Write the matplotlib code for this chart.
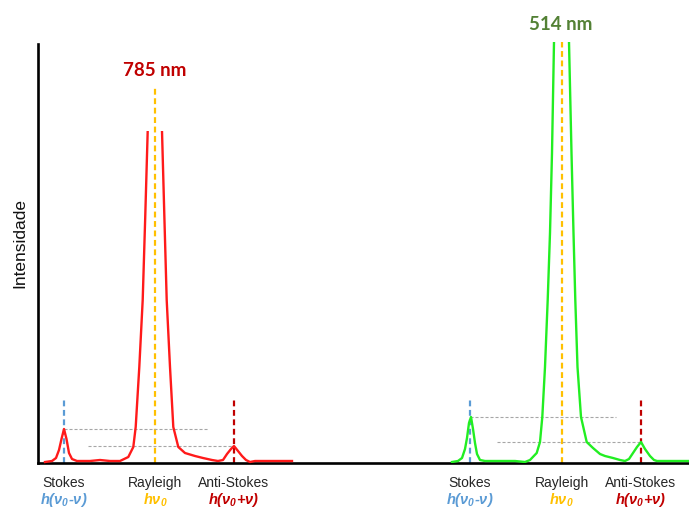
import matplotlib
matplotlib.use("Agg")
import matplotlib.pyplot as plt
from matplotlib.patches import Rectangle

plt.rcParams["lines.scale_dashes"] = False
plt.rcParams["font.family"] = ["Liberation Sans", "DejaVu Sans"]
plt.rcParams["mathtext.fontset"] = "custom"
for key in ("mathtext.bf", "mathtext.rm", "mathtext.it"):
    plt.rcParams[key] = "Liberation Sans:italic:bold"

# ---- spectra (position along the axis, intensity) ----
# 785 nm excitation
red_x = [45, 52, 56, 59, 61.5, 64, 66.5, 69, 72, 77, 90, 100, 110, 120, 128.3,
         133.3, 135.7, 139.3, 142.7, 145.2, 147.7, 155, 162, 164.4, 166.7, 170,
         173.3, 178.3, 185, 195, 203, 212, 218, 223, 227, 231, 234, 238, 242, 246,
         250, 255, 292]
red_y = [1, 2, 5, 13, 24, 34, 24, 10, 4, 2, 2, 3, 2, 2, 6,
         16, 36, 96, 163, 245, 332, 1000, 332, 245, 163, 96,
         36, 16, 10, 7, 5, 3, 2, 3, 9, 14, 17, 12, 7, 3,
         1, 2, 2]

# 514 nm excitation
green_x = [452, 458, 462, 465, 467, 469, 471, 473, 475, 477, 480, 485, 500, 515, 525,
           530, 536.7, 540, 542.3, 545, 547.7, 550, 552, 554, 561.5, 569, 571.5,
           573.5, 575.3, 577.5, 581, 586.7, 593, 600, 605, 613, 620, 625, 629, 633,
           637, 641, 645, 650, 654, 657, 689]
green_y = [1, 2, 5, 14, 25, 40, 46, 34, 20, 9, 3, 2, 2, 2, 1,
           3, 10, 21, 46, 96, 163, 230, 310, 421, 1200, 421, 310,
           230, 163, 96, 46, 21, 15, 9, 7, 5, 3, 2, 4, 10,
           16, 21, 14, 7, 3, 2, 2]

# band positions: Stokes, Rayleigh, anti-Stokes
red_bands = [64, 155, 234]
green_bands = [470, 561.5, 641]
red_stokes_peak, red_anti_peak = 34, 17
green_stokes_peak, green_anti_peak = 46, 21
red_clip = 332
green_clip = 421

band_names = ["Stokes", "Rayleigh", "Anti-Stokes"]
band_terms = [r"$h(\nu_0\text{-}\nu)$", r"$h\nu_0$", r"$h(\nu_0\text{+}\nu)$"]
band_colors = ["#5B9BD5", "#FFC000", "#C00000"]

fig = plt.figure(figsize=(6.89, 5.09), dpi=100)
ax = fig.add_axes([38 / 689, 46 / 509, 651 / 689, 421 / 509])
ax.set_xlim(38, 689)
ax.set_ylim(0, 421)
ax.set_xticks([])
ax.set_yticks([])
for s in ("top", "right"):
    ax.spines[s].set_visible(False)
ax.spines["left"].set_linewidth(1.9)
ax.spines["bottom"].set_linewidth(1.9)
ax.spines["left"].set_bounds(0, 419)

# dashed band markers
def band_markers(bands, heights):
    for x, h, c in zip(bands, heights, band_colors):
        ax.plot([x, x], [0, h], color=c, lw=1.6, dashes=(4.2, 2.6), zorder=1)

band_markers(red_bands, [66, 376, 65])
band_markers(green_bands, [66, green_clip, 66])

# dotted guides at the Stokes and anti-Stokes heights
gray = "#A6A6A6"
ax.plot([red_bands[0], 208], [red_stokes_peak] * 2, color=gray, lw=0.8, dashes=(2.2, 1.4), zorder=1)
ax.plot([88, red_bands[2]], [red_anti_peak] * 2, color=gray, lw=0.8, dashes=(2.2, 1.4), zorder=1)
ax.plot([green_bands[0], 616], [green_stokes_peak] * 2, color=gray, lw=0.8, dashes=(2.2, 1.4), zorder=1)
ax.plot([497, green_bands[2]], [green_anti_peak] * 2, color=gray, lw=0.8, dashes=(2.2, 1.4), zorder=1)

# spectra, Rayleigh line truncated at the top
red_line, = ax.plot(red_x, red_y, color="#FF1A1A", lw=1.7, zorder=3, solid_joinstyle="round")
red_line.set_clip_path(Rectangle((38, -10), 651, red_clip + 10, transform=ax.transData))
ax.plot(green_x, green_y, color="#22EE22", lw=1.7, zorder=3, solid_joinstyle="round")

# laser labels
ax.text(155, 393, "785 nm", color="#C00000", fontsize=13.5, fontweight="bold",
        family=["Lato", "DejaVu Sans"], ha="center", va="center")
ax.text(561, 438, "514 nm", color="#538135", fontsize=13.5, fontweight="bold",
        family=["Lato", "DejaVu Sans"], ha="center", va="center")

# band labels under the axis
for bands in (red_bands, green_bands):
    for x, name, term, c in zip(bands, band_names, band_terms, band_colors):
        ax.text(x, -20, name, fontsize=10, color="#262626", ha="center", va="center")
        ax.text(x, -37, term, fontsize=10.5, color=c, ha="center", va="center")

fig.text(20 / 689, 1 - 243 / 509, "Intensidade", rotation=90, fontsize=12.5,
         ha="center", va="center", color="#111111")

fig.savefig("out.png", dpi=100)
